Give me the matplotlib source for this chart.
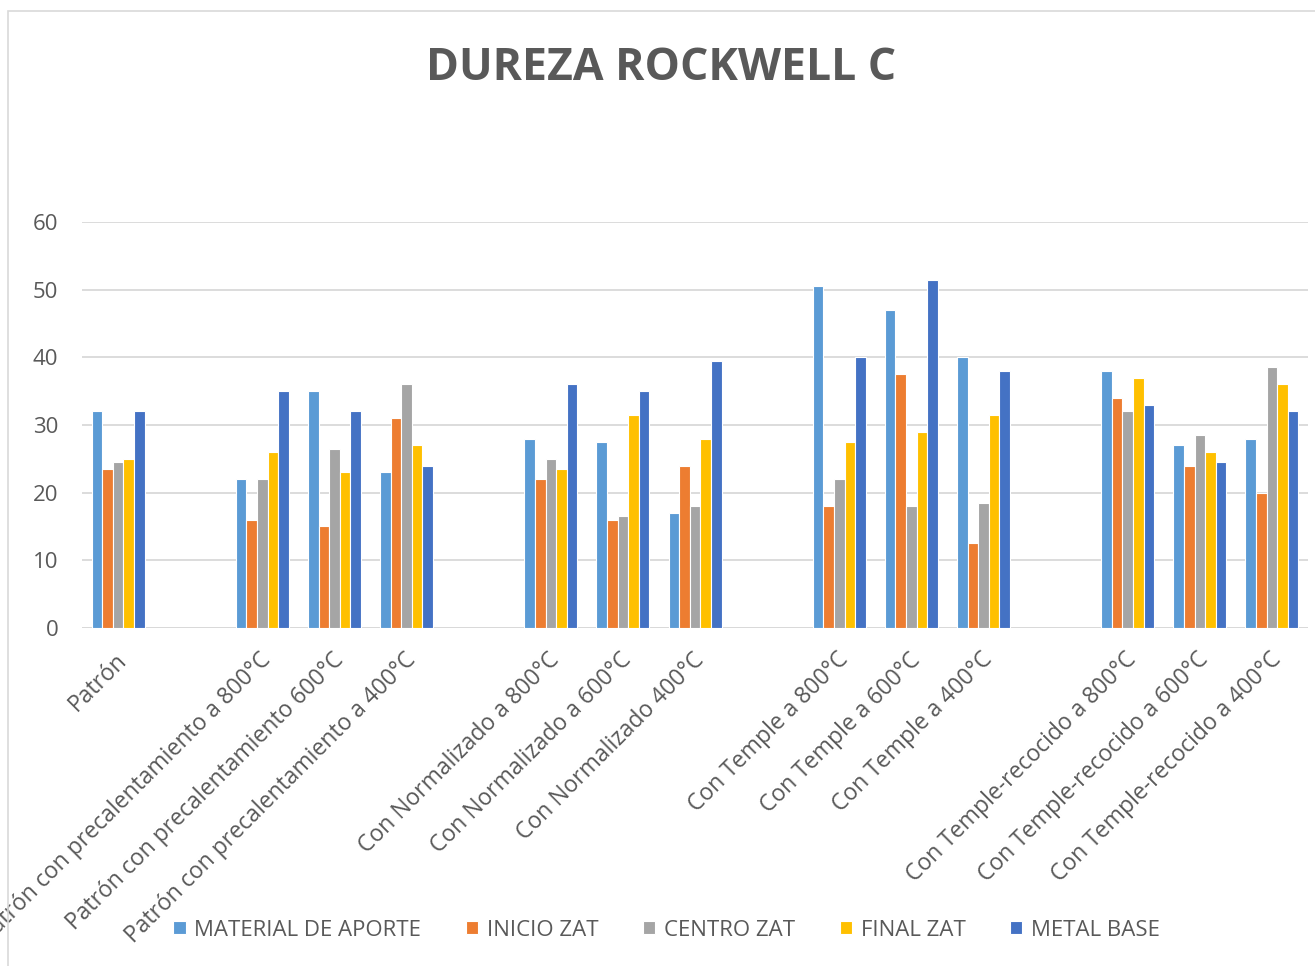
import matplotlib
matplotlib.use("Agg")
import matplotlib.pyplot as plt
import numpy as np
from matplotlib.patches import Rectangle
from matplotlib.transforms import ScaledTranslation

# categories ('' = empty slot between groups, as in the original sheet)
categories = ['Patrón', '',
              'Patrón con precalentamiento a 800°C',
              'Patrón con precalentamiento 600°C',
              'Patrón con precalentamiento a 400°C', '',
              'Con Normalizado a 800°C', 'Con Normalizado a 600°C',
              'Con Normalizado 400°C', '',
              'Con Temple a 800°C', 'Con Temple a 600°C', 'Con Temple a 400°C', '',
              'Con Temple-recocido a 800°C', 'Con Temple-recocido a 600°C',
              'Con Temple-recocido a 400°C']

series_names = ['MATERIAL DE APORTE', 'INICIO ZAT', 'CENTRO ZAT', 'FINAL ZAT', 'METAL BASE']

nan = np.nan
material_aporte = [32, nan, 22, 35, 23, nan, 28, 27.5, 17, nan, 50.5, 47, 40, nan, 38, 27, 28]
inicio_zat = [23.5, nan, 16, 15, 31, nan, 22, 16, 24, nan, 18, 37.5, 12.5, nan, 34, 24, 20]
centro_zat = [24.5, nan, 22, 26.5, 36, nan, 25, 16.5, 18, nan, 22, 18, 18.5, nan, 32, 28.5, 38.5]
final_zat = [25, nan, 26, 23, 27, nan, 23.5, 31.5, 28, nan, 27.5, 29, 31.5, nan, 37, 26, 36]
metal_base = [32, nan, 35, 32, 24, nan, 36, 35, 39.5, nan, 40, 51.5, 38, nan, 33, 24.5, 32]

colors = ['#5B9BD5', '#ED7D31', '#A5A5A5', '#FFC000', '#4472C4']
text_gray = '#595959'

plt.rcParams['font.family'] = ['Open Sans', 'DejaVu Sans']

fig = plt.figure(figsize=(13.15, 9.66), dpi=100)
ax = fig.add_axes([0.0624, 0.3499, 0.9323, 0.4203])

x = np.arange(len(categories))
w = 0.147
all_series = [material_aporte, inicio_zat, centro_zat, final_zat, metal_base]
for i, (vals, name, c) in enumerate(zip(all_series, series_names, colors)):
    ax.bar(x + (i - 2) * w, vals, width=w, color=c, edgecolor='white',
           linewidth=0.8, label=name, zorder=3)

ax.set_xlim(-0.5, len(categories) - 0.5)
ax.set_ylim(0, 60)
ax.set_yticks(range(0, 61, 10))
ax.yaxis.grid(True, color='#D9D9D9', linewidth=1.3, zorder=0)
for s in ax.spines.values():
    s.set_visible(False)
ax.axhline(0, color='#D9D9D9', linewidth=1.3, zorder=1)
ax.tick_params(axis='both', length=0, labelcolor=text_gray)
ax.tick_params(axis='y', labelsize=16, pad=17)
ax.tick_params(axis='x', labelsize=16.5, pad=0)
ax.set_xticks(x)
ax.set_xticklabels(categories, rotation=45, ha='right', va='top', rotation_mode='anchor')
shift = ScaledTranslation(-0.03, -0.2, fig.dpi_scale_trans)
for lbl in ax.get_xticklabels():
    lbl.set_transform(lbl.get_transform() + shift)

fig.text(0.503, 1 - 68 / 966, 'DUREZA ROCKWELL C', ha='center', va='center',
         fontsize=32, fontweight='bold', color=text_gray)

leg = fig.legend(loc='center', bbox_to_anchor=(0.507, 1 - 930 / 966), ncol=5,
                 frameon=False, fontsize=16, handlelength=0.55, handleheight=0.55,
                 handletextpad=0.4, columnspacing=2.0)
for t in leg.get_texts():
    t.set_color(text_gray)

# light chart-area border
fig.patches.append(Rectangle((7.5 / 1315, -0.1), 1.2, 1 - 11 / 966 + 0.1,
                             transform=fig.transFigure, fill=False,
                             edgecolor='#D9D9D9', linewidth=1.2))

fig.savefig('out.png', dpi=100)
